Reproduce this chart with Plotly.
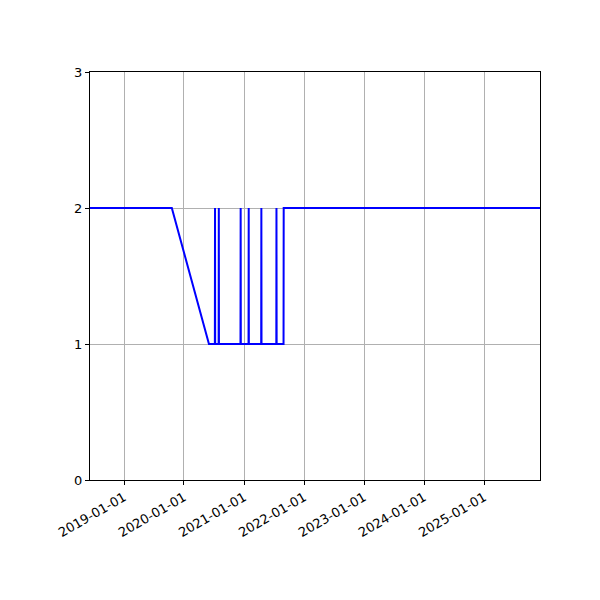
import plotly.graph_objects as go

dates = ["2018-06-08", "2019-10-19", "2020-06-01",
         "2020-07-07", "2020-07-08", "2020-07-09",
         "2020-07-30", "2020-07-31", "2020-08-01",
         "2020-12-10", "2020-12-11", "2020-12-12",
         "2021-01-28", "2021-01-29", "2021-01-30",
         "2021-04-15", "2021-04-16", "2021-04-17",
         "2021-07-16", "2021-07-17", "2021-07-18",
         "2021-08-29", "2021-08-30", "2025-12-07"]
values = [2, 2, 1,
          1, 2, 1,
          1, 2, 1,
          1, 2, 1,
          1, 2, 1,
          1, 2, 1,
          1, 2, 1,
          1, 2, 2]
y_ticks = [0, 1, 2, 3]

fig = go.Figure()
fig.add_trace(go.Scatter(x=dates, y=values, mode="lines",
                         line=dict(color="blue", width=2), showlegend=False))

fig.update_layout(
    width=600, height=600,
    margin=dict(l=82, r=68, t=64, b=128),
    plot_bgcolor="white", paper_bgcolor="white",
    font=dict(family="DejaVu Sans", size=13, color="black"),
)
fig.update_xaxes(
    type="date", range=[dates[0], dates[-1]],
    tick0="2019-01-01", dtick="M12", tickformat="%Y-%m-%d",
    tickangle=-30, ticks="outside", ticklen=4, tickcolor="black",
    showgrid=True, gridcolor="#b0b0b0", gridwidth=1,
    showline=True, mirror=True, linecolor="black", linewidth=1,
    zeroline=False,
)
fig.update_yaxes(
    range=[0, 3], tickvals=y_ticks, ticks="outside", ticklen=4, tickcolor="black",
    showgrid=True, gridcolor="#b0b0b0", gridwidth=1,
    showline=True, mirror=True, linecolor="black", linewidth=1,
    zeroline=False,
)
fig.write_html("out.html")
